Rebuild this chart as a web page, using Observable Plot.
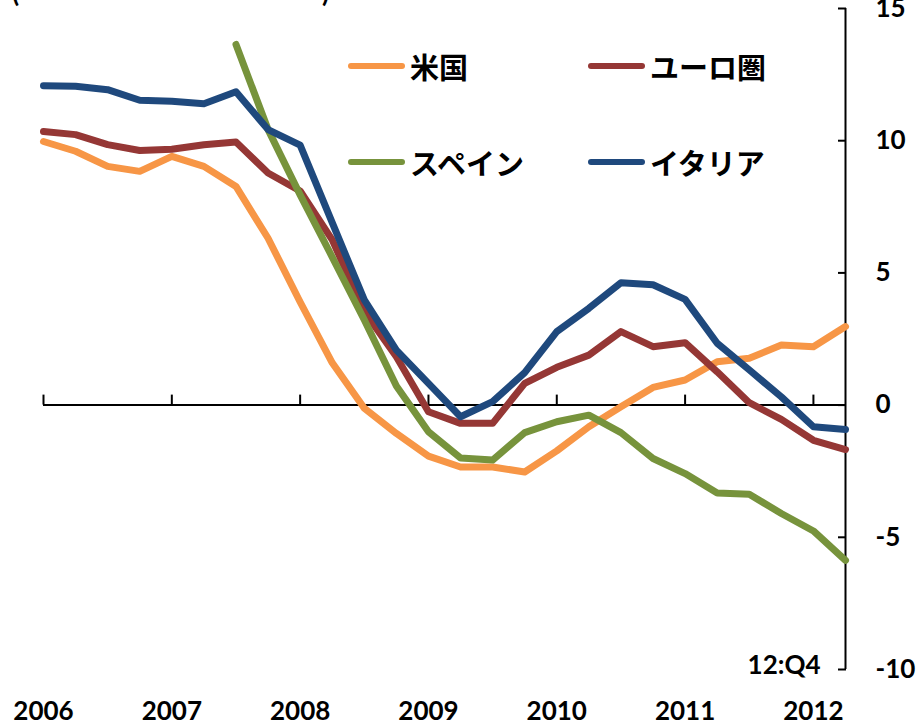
<!DOCTYPE html>
<html><head><meta charset="utf-8">
<script src="https://cdn.jsdelivr.net/npm/d3@7"></script>
<script src="https://cdn.jsdelivr.net/npm/@observablehq/plot@0.6"></script>
<style>
body{margin:0;background:#fff;}
#wrap{position:relative;width:918px;height:721px;overflow:hidden;background:#fff;}
#wrap svg text{font-weight:bold;}
.lg{position:absolute;display:flex;align-items:center;font-family:"Noto Sans CJK JP",sans-serif;font-weight:bold;font-size:29px;color:#000;line-height:1;}
.sw{width:57px;height:6px;border-radius:3px;margin-right:5px;}
.par{position:absolute;font-family:Lato,sans-serif;font-weight:bold;font-size:26px;line-height:26px;top:-21px;}
</style></head><body><div id="wrap"></div>
<script>
// quarterly, index 0 = first quarter plotted, last = 12:Q4
const seriesNames = ["米国", "ユーロ圏", "スペイン", "イタリア"];
const seriesColors = ["#F79646", "#953735", "#77933C", "#1F497D"];
const usValues = [9.97, 9.6, 9.03, 8.84, 9.41, 9.03, 8.27, 6.31, 3.9, 1.6, -0.12, -1.07, -1.93, -2.34, -2.34, -2.53, -1.73, -0.82, -0.06, 0.67, 0.95, 1.64, 1.77, 2.27, 2.21, 2.97];
const euroValues = [10.35, 10.23, 9.85, 9.63, 9.68, 9.85, 9.95, 8.78, 8.1, 6.25, 3.54, 1.83, -0.25, -0.69, -0.69, 0.82, 1.43, 1.89, 2.78, 2.21, 2.36, 1.26, 0.09, -0.54, -1.33, -1.68];
const spainValues = [null, null, null, null, null, null, 13.64, 10.42, 7.95, 5.6, 3.22, 0.72, -1.01, -2.0, -2.08, -1.04, -0.63, -0.38, -1.04, -2.02, -2.59, -3.32, -3.37, -4.1, -4.76, -5.87];
const italyValues = [12.08, 12.06, 11.93, 11.53, 11.49, 11.4, 11.85, 10.42, 9.83, 6.9, 3.98, 2.08, 0.82, -0.44, 0.13, 1.23, 2.78, 3.66, 4.63, 4.55, 4.0, 2.34, 1.33, 0.31, -0.82, -0.92];
const yearLabels = ["2006", "2007", "2008", "2009", "2010", "2011", "2012"];
const yearTickIdx = [0, 4, 8, 12, 16, 20, 24];
const yTicks = [-10, -5, 0, 5, 10, 15];
const endLabel = "12:Q4";

const allSeries = [usValues, euroValues, spainValues, italyValues];
const rows = [];
allSeries.forEach((vals, s) => vals.forEach((v, i) => { if (v != null) rows.push({i, v, s: seriesNames[s]}); }));
const last = usValues.length - 1;

const num = {fontFamily: "Lato, 'Liberation Sans', sans-serif", fontSize: 26, fontWeight: "bold"};

const chart = Plot.plot({
  width: 918, height: 721,
  marginLeft: 43, marginRight: 73, marginTop: 8, marginBottom: 52,
  x: {domain: [0, last]},
  y: {domain: [-10, 15]},
  color: {domain: seriesNames, range: seriesColors},
  style: {fontFamily: "Lato, sans-serif", color: "#000", background: "#fff"},
  marks: [
    Plot.ruleY([0], {x1: 0, x2: last, stroke: "#000", strokeWidth: 2}),
    Plot.ruleX(yearTickIdx, {y1: 0, y2: 0, insetTop: -10, stroke: "#000", strokeWidth: 2}),
    Plot.ruleX([last], {y1: -10, y2: 15, stroke: "#000", strokeWidth: 2}),
    Plot.axisY(yTicks, {anchor: "right", tickSize: 8, dx: -8, text: null, label: null, strokeWidth: 2, stroke: "#000"}),
    Plot.axisY(yTicks, {anchor: "right", tickSize: 0, tickPadding: 30, textAnchor: "start", tickFormat: d => String(d), label: null, fill: "#000", ...num}),
    Plot.axisX(yearTickIdx, {anchor: "bottom", tickSize: 0, tickPadding: 32, tickFormat: d => yearLabels[yearTickIdx.indexOf(d)], label: null, fill: "#000", ...num}),
    Plot.line(rows, {x: "i", y: "v", z: "s", stroke: "s", strokeWidth: 7, strokeLinejoin: "round", strokeLinecap: "round"}),
    Plot.text([endLabel], {x: last, y: -10, dx: -25, dy: -4, text: d => d, textAnchor: "end", fill: "#000", ...num})
  ]
});
const wrap = document.getElementById("wrap");
wrap.appendChild(chart);

// legend (2 columns, row-major)
const legendPos = [[348, 66], [588, 66], [348, 162], [588, 162]];
seriesNames.forEach((name, k) => {
  const d = document.createElement("div");
  d.className = "lg";
  d.style.left = legendPos[k][0] + "px";
  d.style.top = (legendPos[k][1] - 16) + "px";
  d.style.height = "32px";
  const sw = document.createElement("span");
  sw.className = "sw";
  sw.style.background = seriesColors[k];
  const t = document.createElement("span");
  t.textContent = name;
  d.appendChild(sw); d.appendChild(t);
  wrap.appendChild(d);
});
// clipped title parentheses
[["(", 12], [")", 322]].forEach(([c, x]) => {
  const p = document.createElement("div");
  p.className = "par"; p.style.left = x + "px"; p.textContent = c;
  wrap.appendChild(p);
});
</script></body></html>
